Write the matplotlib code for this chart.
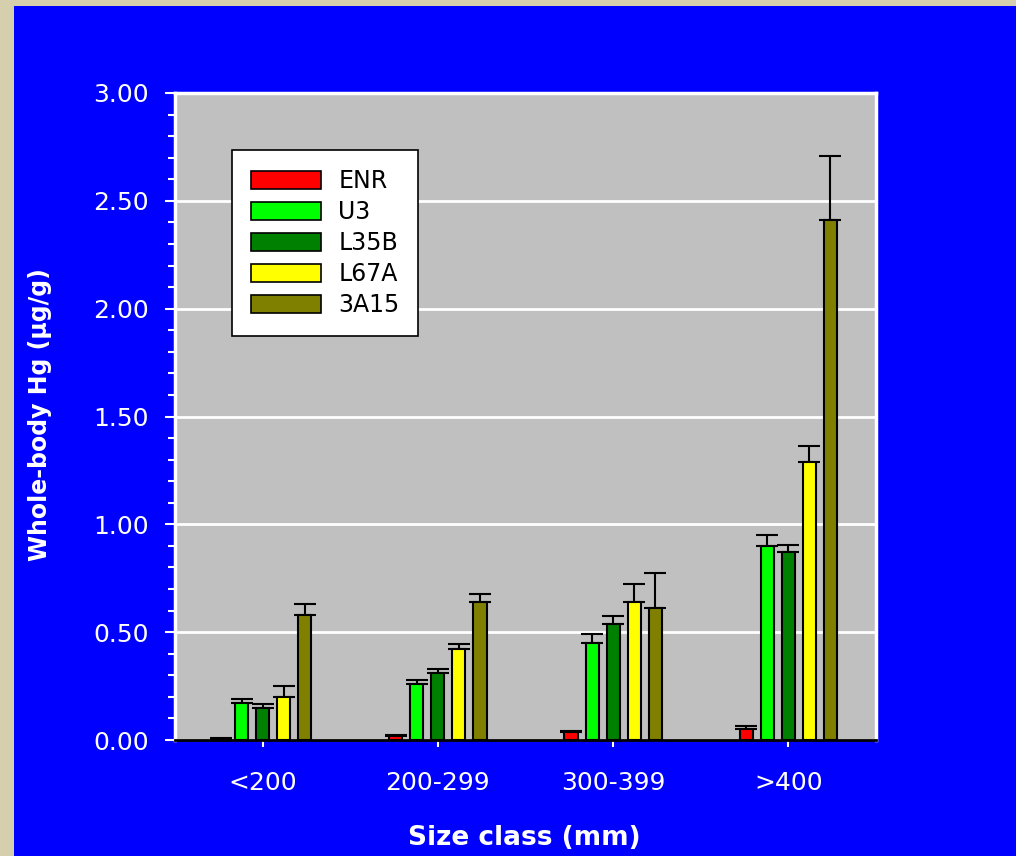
import matplotlib.pyplot as plt
import numpy as np
from matplotlib.patches import Rectangle, Patch

size_classes = ["<200", "200-299", "300-399", ">400"]
sites = ["ENR", "U3", "L35B", "L67A", "3A15"]
colors = ["#FF0000", "#00FF00", "#008000", "#FFFF00", "#808000"]

# mean whole-body Hg per site, one value per size class
enr = [0.0, 0.02, 0.035, 0.05]
u3 = [0.17, 0.26, 0.45, 0.90]
l35b = [0.15, 0.31, 0.54, 0.87]
l67a = [0.20, 0.42, 0.64, 1.29]
a315 = [0.58, 0.64, 0.61, 2.41]
means = [enr, u3, l35b, l67a, a315]

# upper error bars
enr_err = [0.01, 0.005, 0.005, 0.013]
u3_err = [0.02, 0.02, 0.04, 0.05]
l35b_err = [0.015, 0.02, 0.035, 0.035]
l67a_err = [0.05, 0.025, 0.085, 0.075]
a315_err = [0.05, 0.035, 0.165, 0.30]
errs = [enr_err, u3_err, l35b_err, l67a_err, a315_err]

fig = plt.figure(figsize=(10.16, 8.56), dpi=100)
fig.patch.set_facecolor("#d6cfae")
# blue panel behind everything
fig.patches.append(Rectangle((14 / 1016, 0), 1, 850 / 856, transform=fig.transFigure,
                             facecolor="#0000FF", edgecolor="none", zorder=-10))

ax = fig.add_axes([175 / 1016, 116 / 856, 701 / 1016, 647 / 856])
ax.set_facecolor("#C0C0C0")

x = np.arange(len(size_classes))
step = 0.12
width = 0.075
for i, (vals, err, col) in enumerate(zip(means, errs, colors)):
    pos = x + (i - 2) * step
    ax.bar(pos, vals, width, color=col, edgecolor="black", linewidth=1.5, zorder=3)
    ax.errorbar(pos, vals, yerr=[np.zeros(len(err)), err], fmt="none", ecolor="black",
                elinewidth=1.5, capsize=7.9, capthick=1.5, zorder=2)

ax.set_xlim(-0.5, 3.5)
ax.set_ylim(0, 3.0)
ax.set_yticks(np.arange(0, 3.01, 0.5))
ax.set_yticks(np.arange(0, 3.01, 0.1), minor=True)
ax.set_yticklabels([f"{v:.2f}" for v in np.arange(0, 3.01, 0.5)])
ax.set_xticks(x)
ax.set_xticklabels(size_classes)
ax.yaxis.grid(True, color="white", linewidth=2, zorder=1)
ax.set_axisbelow(True)

ax.tick_params(axis="y", which="major", length=7, width=1.5, color="white",
               labelcolor="white", labelsize=18, pad=12)
ax.tick_params(axis="y", which="minor", length=5, width=1.5, color="white")
ax.tick_params(axis="x", length=5, width=1.5, color="white", labelcolor="white",
               labelsize=18, pad=17)

for side in ["left", "top", "right"]:
    ax.spines[side].set_color("white")
    ax.spines[side].set_linewidth(2.5)
ax.spines["bottom"].set_color("black")
ax.spines["bottom"].set_linewidth(2)

fig.text(40 / 1016, 1 - 415 / 856, "Whole-body Hg (µg/g)", rotation=90, color="white",
         fontsize=17, fontweight="bold", ha="center", va="center")
fig.text(524 / 1016, 1 - 838 / 856, "Size class (mm)", color="white",
         fontsize=19, fontweight="bold", ha="center", va="center")

handles = [Patch(facecolor=c, edgecolor="black", linewidth=1.2, label=s)
           for s, c in zip(sites, colors)]
leg = ax.legend(handles=handles, loc="upper left", bbox_to_anchor=(57 / 701, 1 - 57 / 647),
                fontsize=17, frameon=True, fancybox=False, edgecolor="black",
                handlelength=2.95, handleheight=0.8, labelspacing=0.3,
                handletextpad=0.75, borderpad=0.8, borderaxespad=0)
leg.get_frame().set_linewidth(1.2)
leg.get_frame().set_facecolor("white")
leg.get_frame().set_alpha(1)

fig.savefig("out.png", dpi=100)
